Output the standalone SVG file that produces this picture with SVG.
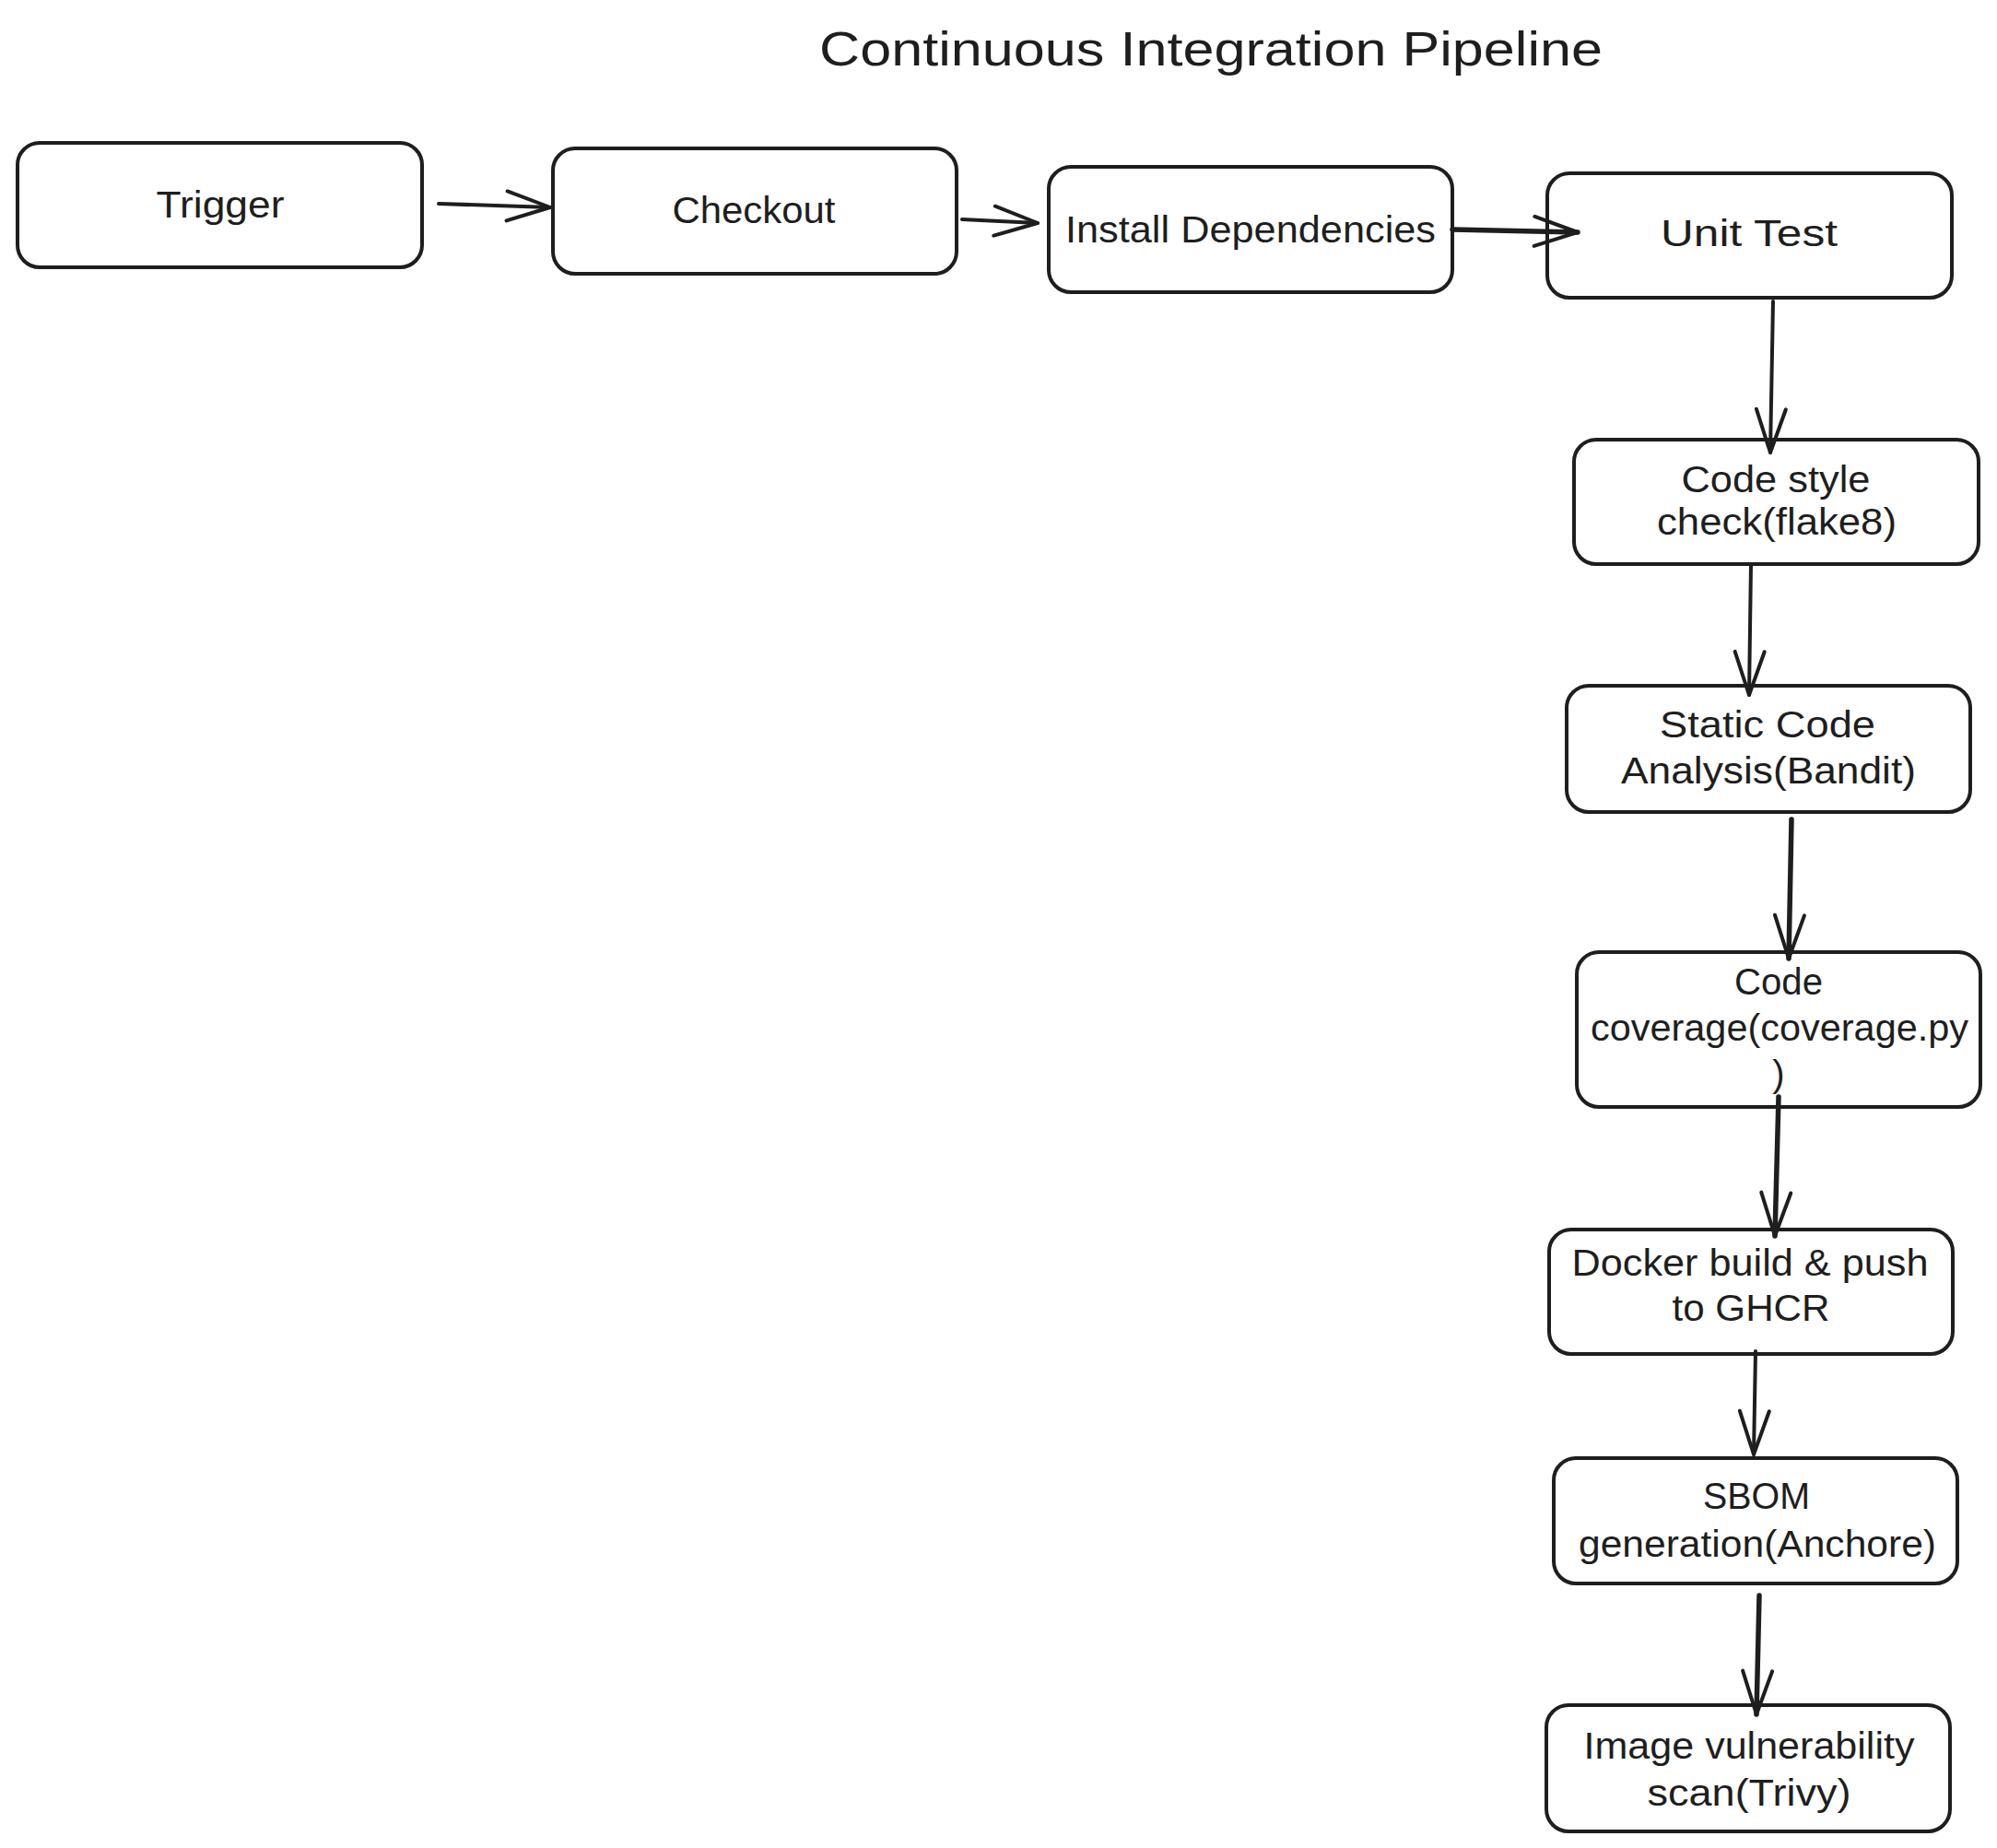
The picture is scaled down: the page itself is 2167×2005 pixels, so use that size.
<svg xmlns="http://www.w3.org/2000/svg" width="2167" height="2005" viewBox="0 0 2167 2005">
<style>
.box{fill:#ffffff;stroke:#1e1e1e;stroke-width:4}
.lbl{font-family:"Liberation Sans",Arial,sans-serif;font-size:40px;fill:#1e1e1e;text-anchor:middle}
.title{font-family:"Liberation Sans",Arial,sans-serif;font-size:52px;fill:#1e1e1e;text-anchor:middle}
.edge{stroke:#1e1e1e;stroke-width:4;fill:none;stroke-linecap:round;marker-end:url(#arr)}
.thick{stroke-width:5.5}
</style>
<defs>
<marker id="arr" markerUnits="userSpaceOnUse" markerWidth="60" markerHeight="40" refX="0" refY="0" orient="auto" overflow="visible">
<path d="M-47,-16 L0,0 L-47,16" fill="none" stroke="#1e1e1e" stroke-width="4" stroke-linecap="round" stroke-linejoin="round"/>
</marker>
</defs>
<rect width="2167" height="2005" fill="#ffffff"/>
<text class="title" x="1314" y="71" textLength="850" lengthAdjust="spacingAndGlyphs">Continuous Integration Pipeline</text>
<g id="trigger"><rect class="box" x="19" y="155" width="439" height="135" rx="24"/><text class="lbl" x="239" y="236" textLength="139" lengthAdjust="spacingAndGlyphs">Trigger</text></g>
<g id="checkout"><rect class="box" x="600" y="161" width="438" height="136" rx="24"/><text class="lbl" x="818" y="242" textLength="177" lengthAdjust="spacingAndGlyphs">Checkout</text></g>
<g id="install"><rect class="box" x="1138" y="181" width="438" height="136" rx="24"/><text class="lbl" x="1357" y="263" textLength="402" lengthAdjust="spacingAndGlyphs">Install Dependencies</text></g>
<g id="unittest"><rect class="box" x="1679" y="188" width="439" height="135" rx="24"/><text class="lbl" x="1898" y="267" textLength="192" lengthAdjust="spacingAndGlyphs">Unit Test</text></g>
<g id="codestyle"><rect class="box" x="1708" y="477" width="439" height="135" rx="24"/><text class="lbl" x="1927" y="534" textLength="205" lengthAdjust="spacingAndGlyphs">Code style</text><text class="lbl" x="1928" y="580" textLength="260" lengthAdjust="spacingAndGlyphs">check(flake8)</text></g>
<g id="static"><rect class="box" x="1700" y="744" width="438" height="137" rx="24"/><text class="lbl" x="1918" y="800" textLength="234" lengthAdjust="spacingAndGlyphs">Static Code</text><text class="lbl" x="1919" y="850" textLength="320" lengthAdjust="spacingAndGlyphs">Analysis(Bandit)</text></g>
<g id="coverage"><rect class="box" x="1711" y="1033" width="438" height="168" rx="24"/><text class="lbl" x="1930" y="1079" textLength="96" lengthAdjust="spacingAndGlyphs">Code</text><text class="lbl" x="1931" y="1129" textLength="410" lengthAdjust="spacingAndGlyphs">coverage(coverage.py</text><text class="lbl" x="1930" y="1179">)</text></g>
<g id="docker"><rect class="box" x="1681" y="1334" width="438" height="135" rx="24"/><text class="lbl" x="1899" y="1384" textLength="387" lengthAdjust="spacingAndGlyphs">Docker build &amp; push</text><text class="lbl" x="1900" y="1433" textLength="171" lengthAdjust="spacingAndGlyphs">to GHCR</text></g>
<g id="sbom"><rect class="box" x="1686" y="1582" width="438" height="136" rx="24"/><text class="lbl" x="1906" y="1637" textLength="116" lengthAdjust="spacingAndGlyphs">SBOM</text><text class="lbl" x="1907" y="1689" textLength="388" lengthAdjust="spacingAndGlyphs">generation(Anchore)</text></g>
<g id="imagescan"><rect class="box" x="1678" y="1850" width="438" height="137" rx="24"/><text class="lbl" x="1898" y="1908" textLength="359" lengthAdjust="spacingAndGlyphs">Image vulnerability</text><text class="lbl" x="1898" y="1959" textLength="221" lengthAdjust="spacingAndGlyphs">scan(Trivy)</text></g>
<g id="connectors">
<path class="edge" d="M476,221 L597,225"/>
<path class="edge" d="M1044,238 L1126,242"/>
<path class="edge thick" d="M1576,249 L1712,252"/>
<path class="edge" d="M1924,327 L1921,491"/>
<path class="edge" d="M1900,612 L1898,754"/>
<path class="edge thick" d="M1944,889 L1941,1040"/>
<path class="edge thick" d="M1930,1190 L1926,1341"/>
<path class="edge" d="M1905,1466 L1903,1578"/>
<path class="edge thick" d="M1909,1731 L1906,1860"/>
</g>
</svg>
